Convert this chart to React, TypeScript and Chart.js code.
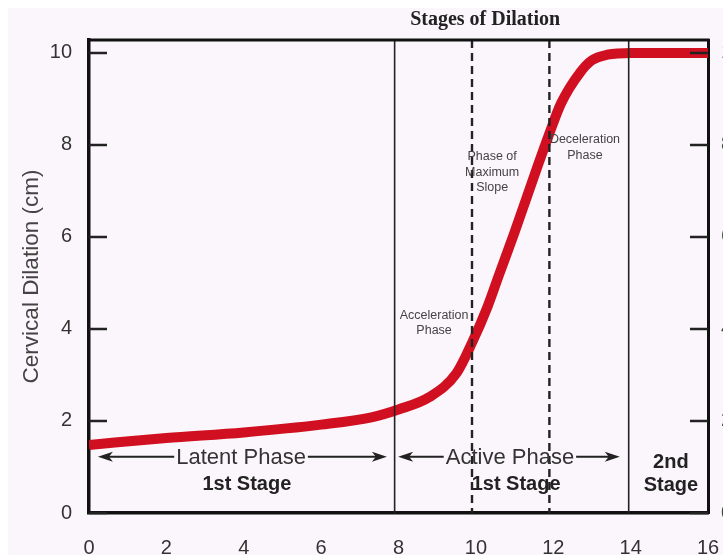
import React, { useEffect, useRef } from "react";
import { Chart, registerables } from "chart.js";

Chart.register(...registerables);

// Curve (hours vs cervical dilation, cm)
const hours = [0, 2, 4, 6, 7.3, 8, 8.8, 9.5, 9.9, 10.3, 10.6, 11, 11.6, 11.9, 12.2, 12.7, 13, 13.4, 14, 15, 16];
const dilation = [1.48, 1.63, 1.75, 1.92, 2.08, 2.25, 2.52, 3.04, 3.7, 4.48, 5.18, 6.1, 7.55, 8.25, 8.9, 9.58, 9.84, 9.96, 10, 10, 10];

const xTickValues = [0, 2, 4, 6, 8, 10, 12, 14, 16];
const yTickValues = [0, 2, 4, 6, 8, 10];
const xMin = 0;
const xMax = 16;
const yMin = 0;
const yMax = 10.28;

const solidDividers = [7.9, 13.95];
const dashedDividers = [9.9, 11.9];

const arrowLabels = ["Latent Phase", "Active Phase"];
const arrowFrom = [0.23, 7.99];
const arrowTo = [7.7, 13.72];
const arrowLabelX = [3.93, 10.88];
const arrowY = 1.22;

const stageLabels = [["1st Stage"], ["1st Stage"], ["2nd", "Stage"]];
const stageX = [4.08, 11.04, 15.04];
const stageY = [0.61, 0.61, 1.1];

const phaseNotes = [["Acceleration", "Phase"], ["Phase of", "Maximum", "Slope"], ["Deceleration", "Phase"]];
const phaseNoteX = [8.92, 10.42, 12.82];
const phaseNoteY = [4.3, 7.74, 8.11];

const chartTitle = "Stages of Dilation";
const titleX = 10.24;
const yAxisTitle = "Cervical Dilation (cm)";

const SANS = "'Liberation Sans', Arial, sans-serif";
const SERIF = "'Liberation Serif', 'Times New Roman', serif";

const setYTicks = (scale: any) => {
  scale.ticks = yTickValues.map((v) => ({ value: v }));
};

const decorPlugin = {
  id: "decor",
  beforeDraw(chart: any) {
    const ctx = chart.ctx;
    ctx.save();
    ctx.fillStyle = "#fbf6fb";
    ctx.fillRect(0, 0, chart.width, chart.height);
    ctx.restore();
  },
  afterDatasetsDraw(chart: any) {
    const ctx = chart.ctx;
    const xs = chart.scales.x;
    const ys = chart.scales.y;
    const area = chart.chartArea;
    ctx.save();
    // vertical dividers
    ctx.strokeStyle = "#222";
    ctx.lineWidth = 1.6;
    ctx.setLineDash([]);
    solidDividers.forEach((v) => {
      const px = xs.getPixelForValue(v);
      ctx.beginPath();
      ctx.moveTo(px, area.top);
      ctx.lineTo(px, area.bottom);
      ctx.stroke();
    });
    ctx.lineWidth = 2.4;
    ctx.setLineDash([8, 5]);
    dashedDividers.forEach((v) => {
      const px = xs.getPixelForValue(v);
      ctx.beginPath();
      ctx.moveTo(px, area.top);
      ctx.lineTo(px, area.bottom);
      ctx.stroke();
    });
    ctx.setLineDash([]);

    // inward ticks on left and right
    ctx.strokeStyle = "#222";
    ctx.lineWidth = 2.5;
    ys.ticks.forEach((t: any) => {
      const py = ys.getPixelForValue(t.value);
      ctx.beginPath();
      ctx.moveTo(area.left, py);
      ctx.lineTo(area.left + 18, py);
      ctx.moveTo(area.right, py);
      ctx.lineTo(area.right - 18, py);
      ctx.stroke();
    });

    // top border
    ctx.strokeStyle = "#111";
    ctx.lineWidth = 3;
    ctx.beginPath();
    ctx.moveTo(area.left - 1.5, area.top);
    ctx.lineTo(area.right + 1.5, area.top);
    ctx.stroke();

    // arrows with labels
    ctx.font = `22px ${SANS}`;
    ctx.textAlign = "center";
    ctx.textBaseline = "middle";
    arrowLabels.forEach((label, i) => {
      const x1 = xs.getPixelForValue(arrowFrom[i]);
      const x2 = xs.getPixelForValue(arrowTo[i]);
      const cx = xs.getPixelForValue(arrowLabelX[i]);
      const py = ys.getPixelForValue(arrowY);
      const w = ctx.measureText(label).width;
      ctx.strokeStyle = "#222";
      ctx.fillStyle = "#222";
      ctx.lineWidth = 2;
      ctx.beginPath();
      ctx.moveTo(x1 + 8, py);
      ctx.lineTo(cx - w / 2 - 2, py);
      ctx.moveTo(cx + w / 2 + 2, py);
      ctx.lineTo(x2 - 8, py);
      ctx.stroke();
      ctx.beginPath();
      ctx.moveTo(x1, py);
      ctx.lineTo(x1 + 15, py - 5);
      ctx.lineTo(x1 + 11, py);
      ctx.lineTo(x1 + 15, py + 5);
      ctx.closePath();
      ctx.fill();
      ctx.beginPath();
      ctx.moveTo(x2, py);
      ctx.lineTo(x2 - 15, py - 5);
      ctx.lineTo(x2 - 11, py);
      ctx.lineTo(x2 - 15, py + 5);
      ctx.closePath();
      ctx.fill();
      ctx.fillStyle = "#333";
      ctx.fillText(label, cx, py + 1);
    });

    // stage labels
    ctx.font = `bold 20px ${SANS}`;
    ctx.fillStyle = "#222";
    stageLabels.forEach((lines, i) => {
      const cx = xs.getPixelForValue(stageX[i]);
      const py = ys.getPixelForValue(stageY[i]);
      lines.forEach((ln, j) => ctx.fillText(ln, cx, py + j * 23));
    });

    // phase notes
    ctx.font = `12.5px ${SANS}`;
    ctx.fillStyle = "#444";
    phaseNotes.forEach((lines, i) => {
      const cx = xs.getPixelForValue(phaseNoteX[i]);
      const py = ys.getPixelForValue(phaseNoteY[i]);
      lines.forEach((ln, j) => ctx.fillText(ln, cx, py + j * 15.5));
    });

    // title
    ctx.font = `bold 20px ${SERIF}`;
    ctx.fillStyle = "#222";
    ctx.fillText(chartTitle, xs.getPixelForValue(titleX), area.top - 20);
    ctx.restore();
  },
};

export default function App() {
  const ref = useRef<HTMLCanvasElement | null>(null);
  useEffect(() => {
    if (!ref.current) return;
    const chart = new Chart(ref.current, {
      type: "line",
      data: {
        datasets: [
          {
            data: hours.map((h, i) => ({ x: h, y: dilation[i] })),
            borderColor: "rgb(208,16,32)",
            borderWidth: 10,
            pointRadius: 0,
            cubicInterpolationMode: "monotone",
            fill: false,
          },
        ],
      },
      options: {
        animation: false,
        responsive: false,
        devicePixelRatio: 1,
        layout: { padding: { top: 32, left: 0, right: 0, bottom: 0 } },
        plugins: { legend: { display: false }, tooltip: { enabled: false }, title: { display: false } },
        scales: {
          x: {
            type: "linear",
            min: xMin,
            max: xMax,
            z: 1,
            afterBuildTicks: (s: any) => {
              s.ticks = xTickValues.map((v) => ({ value: v }));
            },
            afterFit: (s: any) => {
              s.height = 42;
            },
            grid: { display: false },
            border: { display: true, color: "#111", width: 3.5 },
            ticks: { font: { size: 20, family: SANS }, color: "#333", padding: 15, autoSkip: false, maxRotation: 0 },
          },
          y: {
            type: "linear",
            min: yMin,
            max: yMax,
            z: 1,
            afterBuildTicks: setYTicks,
            afterFit: (s: any) => {
              s.width = 81;
            },
            grid: { display: false },
            border: { display: true, color: "#111", width: 3.5 },
            ticks: { font: { size: 20, family: SANS }, color: "#333", padding: 9 },
            title: {
              display: true,
              text: yAxisTitle,
              font: { size: 22.5, family: SANS },
              color: "#444",
              padding: { top: 10, bottom: 0 },
            },
          },
          y2: {
            type: "linear",
            position: "right",
            min: yMin,
            max: yMax,
            z: 1,
            afterBuildTicks: setYTicks,
            afterFit: (s: any) => {
              s.width = 40;
            },
            grid: { display: false },
            border: { display: true, color: "#111", width: 3 },
            ticks: { font: { size: 20, family: SANS }, color: "#444", padding: 5 },
          },
        },
      },
      plugins: [decorPlugin],
    } as any);
    return () => chart.destroy();
  }, []);
  return (
    <div style={{ position: "fixed", left: 8, top: 8, width: 715, height: 547, overflow: "hidden" }}>
      <canvas ref={ref} width={740} height={547} style={{ display: "block" }} />
    </div>
  );
}
